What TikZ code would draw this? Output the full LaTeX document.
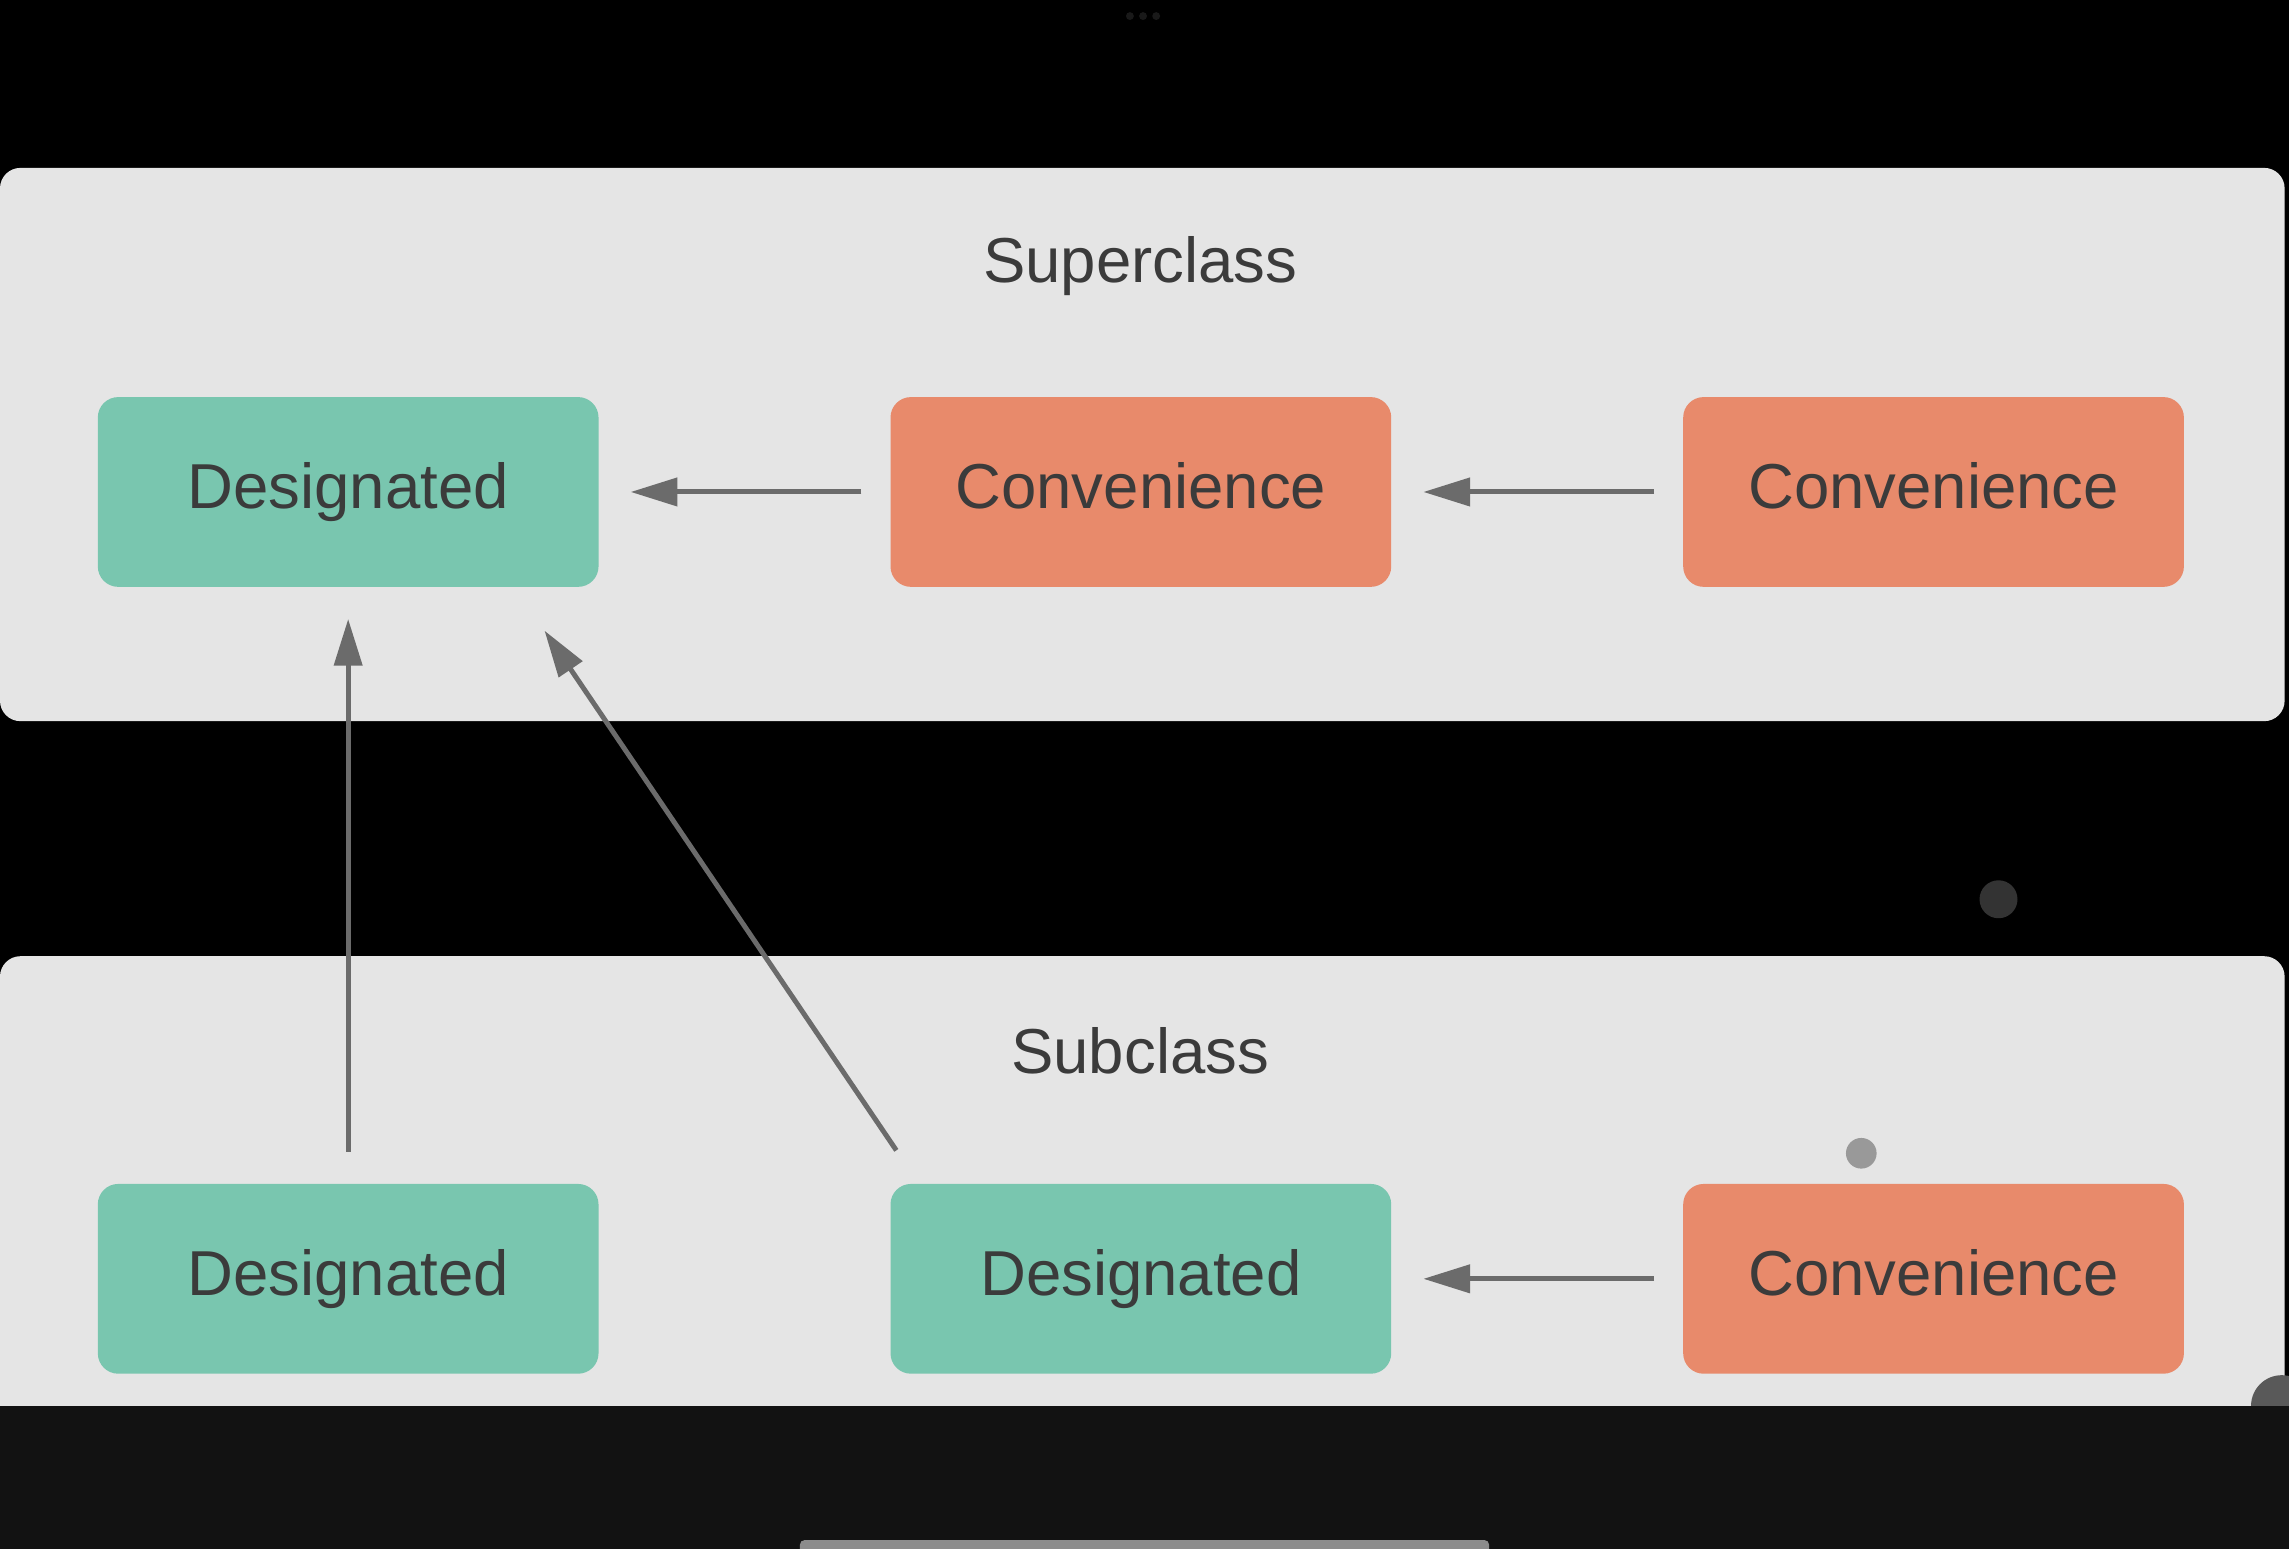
\documentclass[tikz,border=0pt]{standalone}
\usepackage{fontspec}
\setmainfont{Liberation Sans}
\usetikzlibrary{arrows.meta, positioning}
\usepackage{xcolor}
\definecolor{panelgray}{HTML}{E5E5E5}
\definecolor{desiggreen}{HTML}{79C6AF}
\definecolor{convorange}{HTML}{E88A6B}
\definecolor{txtgray}{HTML}{3B3B3B}
\definecolor{arrowgray}{HTML}{6B6B6B}
\definecolor{bandgray}{HTML}{121212}

\begin{document}
\begin{tikzpicture}[x=1pt, y=-1pt,
		panel/.style={fill=panelgray, rounded corners=14pt, minimum width=1565pt, inner sep=0pt, outer sep=0pt},
		title/.style={text=txtgray, font=\fontsize{43.5}{52}\selectfont, inner sep=0pt},
		box/.style={rounded corners=14pt, minimum width=343pt, minimum height=130pt, inner sep=0pt, outer sep=0pt, text=txtgray, font=\fontsize{43.5}{52}\selectfont, text height=32pt, text depth=9pt},
		desig/.style={box, fill=desiggreen},
		conv/.style={box, fill=convorange},
		arr/.style={draw=arrowgray, line width=3.4pt, -{Triangle[length=32pt, width=19pt]}}]
		
		\fill[black] (0,0) rectangle (1568,1061);
		\useasboundingbox (0,0) rectangle (1568,1061);
		
		%panels
		\node[panel, minimum height=379pt] (superpanel) at (782.5,304.5) {};
		\node[panel, minimum height=345pt] (subpanel) at (782.5,827.5) {};
		\node[title] (supertitle) at (781,182) {Superclass};
		\node[title] (subtitle) at (781,720) {Subclass};
		
		%dots
		\fill[black!80] (1369,616) circle (13);
		\fill[black!40] (1275,790) circle (10.5);
		\fill[black!65] (1563,963) circle (21);
		\foreach \x in {774,783,792}
			\fill[black!90] (\x,11) circle (2.7);
		
		%bottom band
		\fill[bandgray] (0,963) rectangle (1568,1061);
		\fill[black!45, rounded corners=3pt] (548,1055) rectangle (1020,1064);
		
		%super designated
		\node[desig] (sdes) at (238.5,337) {Designated};
		%super convenience
		\node[conv, right=200pt of sdes] (sconv) {Convenience};
		%super convenience 2
		\node[conv, right=200pt of sconv] (sconvb) {Convenience};
		%sub designated
		\node[desig, below=409pt of sdes] (bdesa) {Designated};
		%sub designated 2
		\node[desig, below=409pt of sconv] (bdesb) {Designated};
		%sub convenience
		\node[conv, below=409pt of sconvb] (bconv) {Convenience};
		
		
		\draw[arr, shorten <=20pt, shorten >=22pt] (sconv.west) -- (sdes.east);
		\draw[arr, shorten <=20pt, shorten >=22pt] (sconvb.west) -- (sconv.east);
		\draw[arr, shorten <=20pt, shorten >=22pt] (bconv.west) -- (bdesb.east);
		\draw[arr, shorten <=22pt, shorten >=22pt] (bdesa.north) -- (sdes.south);
		\draw[arr] ([shift={(4,-23)}]bdesb.north west) -- ([shift={(-37,30)}]sdes.south east);
		
		
	\end{tikzpicture}
\end{document}
